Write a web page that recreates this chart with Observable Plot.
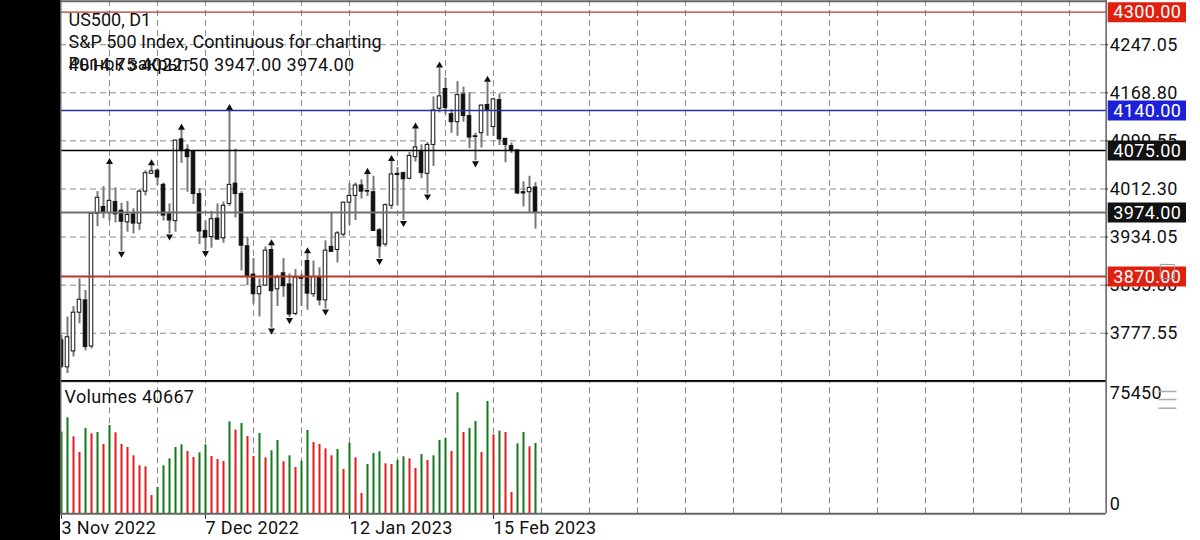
<!DOCTYPE html>
<html>
<head>
<meta charset="utf-8">
<script src="https://cdn.jsdelivr.net/npm/d3@7"></script>
<script src="https://cdn.jsdelivr.net/npm/@observablehq/plot@0.6"></script>
<style>
html,body{margin:0;padding:0;background:#fff;overflow:hidden}
#strip{position:absolute;left:0;top:0;width:60px;height:540px;background:#000}
#chart{position:absolute;left:60px;top:0;width:1140px}
#chart svg{display:block;max-width:none}
.num text{letter-spacing:0.35px}
</style>
</head>
<body>
<div id="strip"></div>
<div id="chart"></div>
<script>
const opens = [3766,3722,3748,3811,3831,3756,3972,3983,3973,3991,
3977,3958,3971,3956,4008,4037,4042,4019,3971,3960,
4093,4076,4073,4004,3944,3934,3964,3932,3988,4021,
4004,3919,3873,3841,3855,3913,3849,3875,3857,3809,
3868,3895,3841,3869,3831,3918,3913,3938,3990,4001,
4018,4009,4007,3945,3922,3985,4037,4038,4029,4064,
4074,4037,4084,4143,4175,4134,4121,4166,4131,4098,
4103,4149,4113,4157,4094,4082,4075,4007,4007,4014.75];
const highs = [3774,3804,3821,3866,3847,3973,4008,4016,4052,4014,
3989,3992,3980,4011,4042,4050,4045,4022,3988,4092,
4108,4084,4075,4013,3960,3976,3988,3991,4140,4077,
4008,3934,3899,3866,3918,3920,3872,3899,3874,3881,
3874,3907,3895,3884,3928,3973,3943,3991,4021,4022,
4027,4036,4033,3948,3988,4057,4047,4040,4072,4110,
4084,4088,4162,4209,4193,4141,4187,4178,4169,4103,
4149,4186,4160,4167,4094,4087,4076,4024,4033,4022.5];
const lows = [3720,3712,3739,3793,3749,3752,3951,3964,3960,3957,
3911,3942,3939,3945,4001,4036,4018,3960,3939,3942,
4054,4007,3987,3922,3912,3916,3929,3924,3984,3965,
3879,3855,3825,3804,3854,3786,3821,3836,3803,3806,
3821,3815,3836,3822,3817,3909,3892,3934,3953,3961,
3996,4000,3943,3899,3918,3979,3985,3961,4027,4056,
4029,4004,4049,4136,4133,4103,4098,4121,4078,4058,
4079,4098,4098,4083,4055,4070,4003,3983,3974,3947];
const closes = [3723,3771,3811,3832,3755,3972,3998,3973,3993,3971,
3959,3970,3956,4008,4038,4041,4031,3969,3961,4091,
4074,4064,4004,3943,3933,3963,3930,3985,4019,4004,
3920,3871,3841,3853,3912,3846,3868,3854,3808,3868,
3866,3842,3869,3831,3912,3910,3940,3990,4001,4018,
4008,4008,3944,3919,3986,4036,4035,4028,4066,4080,
4038,4084,4140,4163,4144,4121,4165,4131,4096,4097,
4148,4140,4158,4093,4084,4074,4005,4005,4014,3974];
const volumes = [50910,59850,48000,38240,53200,49870,50700,43220,55070,50500,
43220,41350,36160,29920,29300,11430,16420,29920,34290,41350,
43020,38860,35120,38030,43020,35740,33870,32630,57350,52160,
56310,48210,35740,50080,34910,39270,45720,32420,36160,28880,
32830,51950,44470,43220,40520,36160,40110,27640,44050,34910,
12680,30750,37610,38650,31170,30750,33250,35530,34290,28260,
36990,33250,36160,45720,46960,38860,75450,50700,53200,57560,
38240,70030,49250,51530,50700,13300,43640,50700,41770,43850];
const volumeUp = [1,1,0,0,1,0,1,0,1,0,
0,0,0,0,0,0,1,1,1,1,
1,0,0,1,1,0,0,0,1,0,
1,0,0,1,0,1,1,0,1,0,
1,1,0,0,0,0,1,0,1,0,
0,1,1,1,0,0,1,1,0,0,
1,0,1,1,1,0,1,0,1,1,
0,1,0,1,0,0,1,1,0,1];
const upArrows = [8,15,20,28,35,41,51,55,59,63,71];
const downArrows = [10,18,24,35,38,44,53,57,61,69];
const priceTicks = [4247.05,4168.80,4090.55,4012.30,3934.05,3855.80,3777.55];
const levels = [4300,4140,4075,3974,3870];
const levelColors = ["#b8372c","#2b2f9e","#000000","#6e6e6e","#b8372c"];
const levelWidths = [1.3,1.3,1.5,2,2];
const levelBoxes = ["#e0200f","#1c20d8","#111111","#111111","#e0200f"];
const dateIdx = [0,24,48,72];
const dateLabels = ["3 Nov 2022","7 Dec 2022","12 Jan 2023","15 Feb 2023"];
const gridIdx = d3.range(8,169,8);

const rows = opens.map((o,i)=>({i,o,h:highs[i],l:lows[i],c:closes[i],v:volumes[i],vu:volumeUp[i]}));
const X = {domain:[-1/6,189.8333],range:[0,1140],axis:null};
const AXIS = 174.1, TICKX = 174.7, BOX1 = 174.45, BOX2 = 187.5, BOXTEXT = 175.3;
const dash = "6 4";
const gridC = "#8a8a8a";
const font = {fontFamily:"Roboto",fontSize:18,fill:"#111"};

const price = Plot.plot({
  width:1140,height:381,margin:0,
  style:{background:"transparent",fontFamily:"Roboto"},
  x:X,
  y:{domain:[3699,4319],range:[381,0],axis:null},
  marks:[
    Plot.ruleX(gridIdx,{x:d=>d,stroke:gridC,strokeWidth:1,strokeDasharray:dash}),
    Plot.ruleY(priceTicks,{y:d=>d,x1:-1/6,x2:AXIS,stroke:gridC,strokeWidth:1,strokeDasharray:dash}),
    Plot.ruleY(priceTicks,{y:d=>d,x1:AXIS,x2:AXIS+0.4,stroke:"#333",strokeWidth:1}),
    Plot.ruleX(rows,{x:"i",y1:"l",y2:"h",stroke:"#777",strokeWidth:2}),
    Plot.rect(rows,{x1:d=>d.i-0.3,x2:d=>d.i+0.3,y1:"o",y2:"c",
      fill:d=>d.c>=d.o?"#fff":"#111",stroke:"#111",strokeWidth:1,inset:0}),
    Plot.dot(upArrows,{x:d=>d,y:d=>highs[d],symbol:"triangle",r:2.6,fill:"#111",dy:-2.5}),
    Plot.dot(downArrows,{x:d=>d,y:d=>lows[d],symbol:"triangle",r:2.6,fill:"#111",rotate:180,dy:2.5}),
    Plot.ruleY(levels,{y:d=>d,x1:-1/6,x2:AXIS,stroke:(d,i)=>levelColors[i],strokeWidth:(d,i)=>levelWidths[i]}),
    Plot.ruleY([4317.8],{y:d=>d,x1:-1/6,x2:AXIS,stroke:"#666",strokeWidth:2}),
    Plot.ruleY([3699.8],{y:d=>d,x1:-1/6,x2:AXIS,stroke:"#000",strokeWidth:2}),
    Plot.ruleX([AXIS],{x:d=>d,stroke:"#111",strokeWidth:1}),
    Plot.ruleX([-1/6],{x:d=>d,stroke:"#666",strokeWidth:2}),
    Plot.text(priceTicks,{x:TICKX,y:d=>d,dy:0.5,text:d=>d.toFixed(2),textAnchor:"start",className:"num",...font}),
    Plot.ruleY(levels,{y:d=>d,x1:BOX1,x2:BOX2,stroke:(d,i)=>levelBoxes[i],strokeWidth:20}),
    Plot.text(levels,{x:BOXTEXT,y:d=>d,dy:0.5,text:d=>d.toFixed(2),textAnchor:"start",className:"num",...font,fill:"#fff"}),
    Plot.dot([3870],{x:184.3,y:d=>d+8,symbol:"square",r:8,fill:"none",stroke:"#999",strokeWidth:1,strokeLinejoin:"round"}),
    Plot.text(["US500, D1"],{frameAnchor:"top-left",dx:8,dy:20,text:d=>d,textAnchor:"start",lineAnchor:"middle",...font}),
    Plot.text(["S&P 500 Index, Continuous for charting"],{frameAnchor:"top-left",dx:8,dy:42,text:d=>d,textAnchor:"start",lineAnchor:"middle",...font}),
    Plot.text(["Рынок закрыт"],{frameAnchor:"top-left",dx:8,dy:64,text:d=>d,textAnchor:"start",lineAnchor:"middle",...font}),
    Plot.text(["4014.75 4022.50 3947.00 3974.00"],{frameAnchor:"top-left",dx:8,dy:65,text:d=>d,textAnchor:"start",lineAnchor:"middle",className:"num",...font})
  ]
});

const vol = Plot.plot({
  width:1140,height:159,margin:0,
  style:{background:"transparent",fontFamily:"Roboto"},
  x:X,
  y:{domain:[0,75450],range:[132.3,11.3],axis:null},
  marks:[
    Plot.ruleX(gridIdx,{x:d=>d,y1:0,y2:82400,stroke:gridC,strokeWidth:1,strokeDasharray:dash}),
    Plot.ruleX(dateIdx,{x:d=>d,y1:0,y2:-3500,stroke:"#333",strokeWidth:1}),
    Plot.ruleX(rows,{x:"i",y1:0,y2:"v",stroke:d=>d.vu?"#12791a":"#e01b1b",strokeWidth:2}),
    Plot.ruleY([0],{x1:-1/6,x2:AXIS,stroke:"#666",strokeWidth:2}),
    Plot.ruleY([82400],{y:d=>d,x1:-1/6,x2:AXIS,stroke:"#000",strokeWidth:1}),
    Plot.ruleX([AXIS],{x:d=>d,y1:0,y2:82400,stroke:"#111",strokeWidth:1}),
    Plot.ruleX([-1/6],{x:d=>d,y1:0,y2:82400,stroke:"#666",strokeWidth:2}),
    Plot.text(["Volumes 40667"],{frameAnchor:"top-left",dx:4,dy:16,text:d=>d,textAnchor:"start",lineAnchor:"middle",className:"num",...font}),
    Plot.text([75450],{x:TICKX,y:d=>d,text:d=>String(d),textAnchor:"start",className:"num",...font}),
    Plot.text([0],{x:TICKX,y:d=>d,dy:-10,text:d=>String(d),textAnchor:"start",...font}),
    Plot.ruleY([76250,71260,65840],{y:d=>d,x1:182.9,x2:185.9,stroke:"#aaa",strokeWidth:1.5}),
    Plot.text(dateIdx,{x:d=>d,y:0,dy:14,text:(d,i)=>dateLabels[i],textAnchor:"start",lineAnchor:"middle",className:"num",...font})
  ]
});

document.getElementById("chart").append(price, vol);
</script>
</body>
</html>
